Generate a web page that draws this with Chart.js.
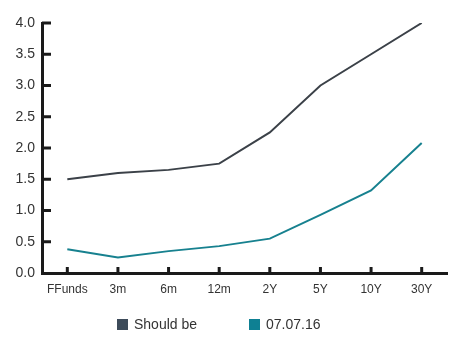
<!DOCTYPE html>
<html>
<head>
<meta charset="utf-8">
<script src="https://cdn.jsdelivr.net/npm/chart.js@4.4.1/dist/chart.umd.min.js"></script>
<style>
    body { margin: 0; background: #fff; }
    #wrap { position: relative; width: 463px; height: 342px; }
    #legend { position: absolute; top: 316px; left: 0; width: 463px; font: 14px "Liberation Sans", Arial, sans-serif; color: #333; }
    .item { position: absolute; top: 0; white-space: nowrap; }
    .box { display: inline-block; width: 11px; height: 11px; margin-right: 6px; vertical-align: -1px; }
</style>
</head>
<body>
<div id="wrap">
    <canvas id="curveChart" width="463" height="342"></canvas>
    <div id="legend"></div>
</div>
<script>
const categories = ["FFunds", "3m", "6m", "12m", "2Y", "5Y", "10Y", "30Y"];
const shouldBe = [1.5, 1.6, 1.65, 1.75, 2.25, 3.0, 3.5, 4.0];
const july2016 = [0.38, 0.25, 0.35, 0.43, 0.55, 0.93, 1.32, 2.08];
const seriesNames = ["Should be", "07.07.16"];
const lineColors = ["#3b4148", "#17818f"];
const boxColors = ["#3d4b5a", "#0e8093"];

// Ticks drawn on the inside of the axes
const innerTicks = {
    id: 'innerTicks',
    afterDraw(chart) {
        const ctx = chart.ctx;
        const x = chart.scales.x, y = chart.scales.y;
        ctx.save();
        ctx.strokeStyle = "#1a1a1a";
        ctx.lineWidth = 3;
        x.ticks.forEach((t, i) => {
            const px = x.getPixelForTick(i);
            ctx.beginPath();
            ctx.moveTo(px, y.bottom);
            ctx.lineTo(px, y.bottom - 6);
            ctx.stroke();
        });
        y.ticks.forEach((t, i) => {
            const py = y.getPixelForTick(i);
            if (i === 0) return;
            ctx.beginPath();
            ctx.moveTo(x.left, py);
            ctx.lineTo(x.left + 9, py);
            ctx.stroke();
        });
        ctx.restore();
    }
};

const chart = new Chart(document.getElementById('curveChart').getContext('2d'), {
    type: 'line',
    data: {
        labels: categories,
        datasets: [
            { label: seriesNames[0], data: shouldBe, borderColor: lineColors[0], borderWidth: 2, pointRadius: 0, tension: 0, fill: false },
            { label: seriesNames[1], data: july2016, borderColor: lineColors[1], borderWidth: 2, pointRadius: 0, tension: 0, fill: false }
        ]
    },
    options: {
        responsive: false,
        animation: false,
        layout: { padding: { top: 23, right: 16, bottom: 39, left: 0 } },
        plugins: { legend: { display: false }, tooltip: { enabled: false } },
        scales: {
            x: {
                offset: true,
                grid: { display: false, drawTicks: false },
                border: { display: true, color: "#1a1a1a", width: 3 },
                ticks: { color: "#333", font: { family: "Liberation Sans", size: 12 }, padding: 9, maxRotation: 0 },
                afterFit: s => { s.height = 30; }
            },
            y: {
                min: 0,
                max: 4,
                grid: { display: false, drawTicks: false },
                border: { display: true, color: "#1a1a1a", width: 3 },
                ticks: { stepSize: 0.5, color: "#333", font: { family: "Liberation Sans", size: 14 }, padding: 7, callback: v => v.toFixed(1) },
                afterFit: s => { s.width = 42; }
            }
        }
    },
    plugins: [innerTicks]
});

// HTML legend
const legend = document.getElementById('legend');
const legendX = [117, 249];
seriesNames.forEach((name, i) => {
    const el = document.createElement('span');
    el.className = 'item';
    el.style.left = legendX[i] + 'px';
    el.innerHTML = '<span class="box" style="background:' + boxColors[i] + '"></span>' + name;
    legend.appendChild(el);
});
</script>
</body>
</html>
